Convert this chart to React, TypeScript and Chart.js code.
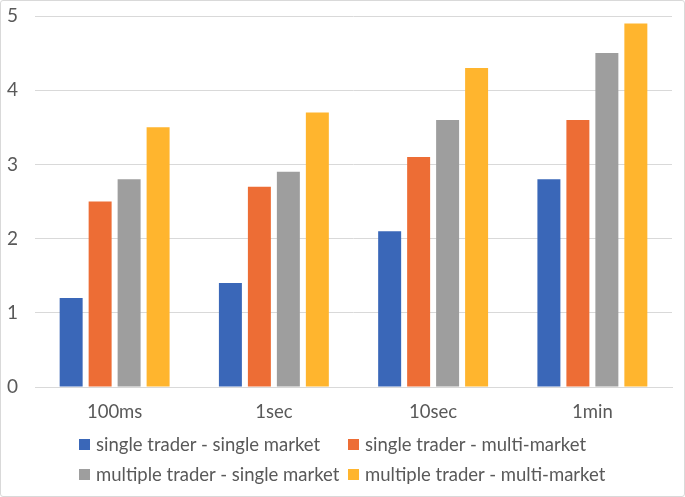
import React, { useEffect, useRef } from "react";
import { Chart, registerables } from "chart.js";

Chart.register(...registerables);

const categories = ["100ms", "1sec", "10sec", "1min"];
const seriesNames = [
  "single trader - single market",
  "single trader - multi-market",
  "multiple trader - single market",
  "multiple trader - multi-market",
];
const singleSingle = [1.2, 1.4, 2.1, 2.8];
const singleMulti = [2.5, 2.7, 3.1, 3.6];
const multipleSingle = [2.8, 2.9, 3.6, 4.5];
const multipleMulti = [3.5, 3.7, 4.3, 4.9];
const yTicks = [0, 1, 2, 3, 4, 5];

const colors = ["#3A67B8", "#ED6D35", "#9E9E9E", "#FFB52E"];
const FONT = "Lato, 'Open Sans', sans-serif";
const TEXT = "#595959";

export default function App() {
  const ref = useRef<HTMLCanvasElement>(null);
  const seriesValues = [singleSingle, singleMulti, multipleSingle, multipleMulti];

  useEffect(() => {
    document.body.style.margin = "0";
    const chart = new Chart(ref.current!, {
      type: "bar",
      data: {
        labels: categories,
        datasets: seriesNames.map((name, i) => ({
          label: name,
          data: seriesValues[i],
          backgroundColor: colors[i],
          borderWidth: 0,
          categoryPercentage: 0.728,
          barPercentage: 0.793,
        })),
      },
      options: {
        animation: false,
        responsive: false,
        maintainAspectRatio: false,
        layout: { padding: { top: 15, right: 12, bottom: 0, left: 6 } },
        plugins: { legend: { display: false }, tooltip: { enabled: false } },
        scales: {
          x: {
            grid: { display: false, drawTicks: false },
            border: { display: true, color: "#D9D9D9", width: 1 },
            ticks: { color: TEXT, font: { family: FONT, size: 18.5 }, padding: 14 },
            afterFit: (s: any) => { s.height = 109; },
          },
          y: {
            min: 0,
            max: 5,
            afterBuildTicks: (s: any) => { s.ticks = yTicks.map((v) => ({ value: v })); },
            grid: { color: "#D9D9D9", drawTicks: false },
            border: { display: false },
            ticks: { color: TEXT, font: { family: FONT, size: 19 }, padding: 0, crossAlign: "far" },
            afterFit: (s: any) => { s.width = 28; },
          },
        },
      },
    });
    return () => chart.destroy();
  }, []);

  return (
    <div
      style={{
        position: "absolute",
        left: 0,
        top: 0,
        width: 685,
        height: 497,
        boxSizing: "border-box",
        border: "1px solid #D9D9D9",
        borderRadius: 3,
        background: "#fff",
      }}
    >
      <canvas ref={ref} width={683} height={495} style={{ display: "block" }} />
      <div
        style={{
          position: "absolute",
          left: 78,
          top: 431,
          display: "grid",
          gridTemplateColumns: "269px auto",
          rowGap: 6,
          fontFamily: FONT,
          fontSize: 18.5,
          color: TEXT,
          lineHeight: "24px",
        }}
      >
        {seriesNames.map((name, i) => (
          <div key={name} style={{ display: "flex", alignItems: "center", whiteSpace: "nowrap" }}>
            <span
              style={{
                display: "inline-block",
                width: 11,
                height: 11,
                background: colors[i],
                marginRight: 6,
              }}
            />
            <span>{name}</span>
          </div>
        ))}
      </div>
    </div>
  );
}
